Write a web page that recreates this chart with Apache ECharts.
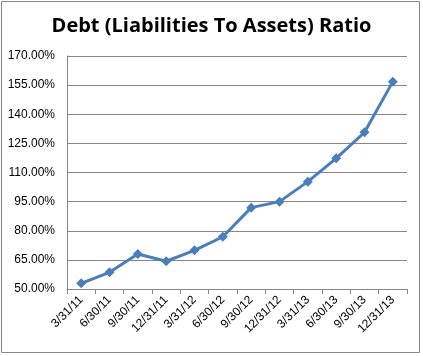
<!DOCTYPE html>
<html><head><meta charset="utf-8">
<script src="https://cdn.jsdelivr.net/npm/echarts@6/dist/echarts.min.js"></script>
<style>html,body{margin:0;padding:0;background:#fff}#c{width:423px;height:356px}</style>
</head><body><div id="c"></div>
<script>
const categories = ['3/31/11','6/30/11','9/30/11','12/31/11','3/31/12','6/30/12','9/30/12','12/31/12','3/31/13','6/30/13','9/30/13','12/31/13'];
const ratioValues = [52.9, 58.6, 68.0, 64.3, 69.9, 76.9, 91.9, 95.0, 105.3, 117.3, 130.7, 156.8];
const chartTitle = 'Debt (Liabilities To Assets) Ratio';

const chart = echarts.init(document.getElementById('c'), null, {renderer: 'canvas'});
chart.setOption({
  animation: false,
  backgroundColor: '#fff',
  graphic: [{type: 'rect', shape: {x: 1.5, y: 1.5, width: 418, height: 351}, style: {fill: 'none', stroke: '#888', lineWidth: 1}}],
  title: {text: chartTitle, left: 'center', top: 11,
    textStyle: {fontFamily: 'Open Sans', fontWeight: 'bold', fontSize: 20, color: '#000'}},
  grid: {left: 67, right: 16, top: 56, bottom: 67},
  xAxis: {type: 'category', data: categories, boundaryGap: true,
    axisLine: {lineStyle: {color: '#868686', width: 1}},
    axisTick: {show: true, length: 5, lineStyle: {color: '#868686'}},
    axisLabel: {rotate: 45, fontFamily: 'Liberation Sans', fontSize: 12, color: '#000', margin: 9, interval: 0}},
  yAxis: {type: 'value', min: 50, max: 170, interval: 15,
    axisLine: {show: true, lineStyle: {color: '#868686'}},
    axisTick: {show: false},
    splitLine: {lineStyle: {color: '#868686', width: 1}},
    axisLabel: {fontFamily: 'Liberation Sans', fontSize: 12, color: '#000', margin: 12,
      formatter: v => v.toFixed(2) + '%'}},
  series: [{type: 'line', data: ratioValues, symbol: 'diamond', symbolSize: 10,
    lineStyle: {color: '#4a7ebb', width: 3}, itemStyle: {color: '#4a7ebb'}}]
});
</script></body></html>
